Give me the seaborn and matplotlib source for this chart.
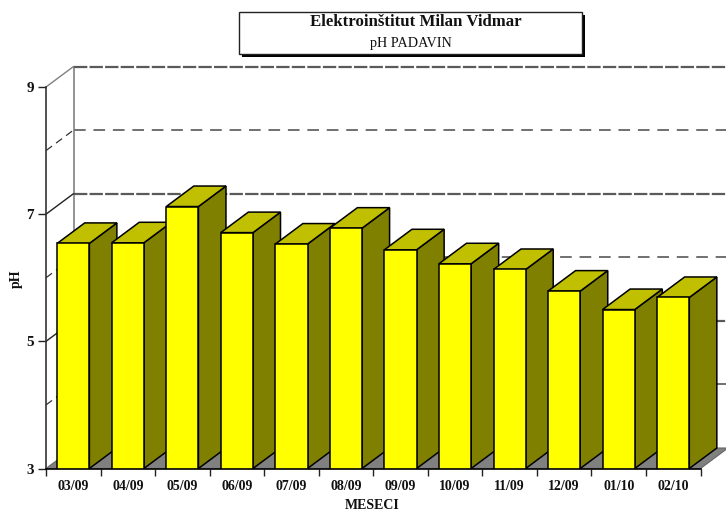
import numpy as np
import matplotlib
matplotlib.use("Agg")
import matplotlib.pyplot as plt
import seaborn as sns
from matplotlib.patches import Polygon, Rectangle

months = ["03/09", "04/09", "05/09", "06/09", "07/09", "08/09",
          "09/09", "10/09", "11/09", "12/09", "01/10", "02/10"]
ph = [6.54, 6.55, 7.12, 6.71, 6.53, 6.78, 6.44, 6.22, 6.13, 5.79, 5.50, 5.69]
major_ticks = [3, 5, 7, 9]
minor_ticks = [4, 6, 8]

sns.set_theme(style="white")
plt.rcParams["font.family"] = ["Liberation Serif", "DejaVu Serif"]

W, H = 726, 511
fig = plt.figure(figsize=(W / 100, H / 100), dpi=100)
ax = fig.add_axes([46 / W, 1 - 468.5 / H, 654.5 / W, 381.5 / H])

sns.barplot(x=months, y=ph, color="#ffff00", saturation=1, width=0.59,
            edgecolor="black", linewidth=1.1, ax=ax)
ax.set_xlim(-0.5, 11.5)
ax.set_ylim(3, 9)

# depth of the fake 3d box, in data units
dx = 27.5 / 54.5
dy = 20.5 / 63.6

# floor
x0, x1 = -0.5, 11.5
ax.add_patch(Polygon([(x0, 3), (x0 + dx, 3 + dy), (x1 + dx, 3 + dy), (x1, 3)],
                     facecolor="#808080", edgecolor="#666666", lw=0.8,
                     clip_on=False, zorder=0.2))

# back wall lines and the diagonals on the left side
ax.plot([x0 + dx, x0 + dx], [3 + dy, 9 + dy], color="#808080", lw=1.2,
        clip_on=False, zorder=0.3)
for v in major_ticks[1:]:
    ax.plot([x0 + dx, x1 + 0.5], [v + dy, v + dy], color="#5a5a5a", lw=1.6,
            ls=(0, (6, 1)), clip_on=False, zorder=0.3)
    diag = "#808080" if v == 9 else "#222222"
    ax.plot([x0, x0 + dx], [v, v + dy], color=diag, lw=1,
            clip_on=False, zorder=0.3)
for v in minor_ticks:
    ax.plot([x0 + dx, x1 + 0.5], [v + dy, v + dy], color="#707070", lw=1.4,
            ls=(0, (6, 4)), clip_on=False, zorder=0.3)
    ax.plot([x0, x0 + dx], [v, v + dy], color="#333333", lw=0.9,
            ls=(0, (6, 4)), clip_on=False, zorder=0.3)

# sides and tops, later bars cover the sides of earlier ones
for i, bar in enumerate(ax.patches[:len(months)]):
    left = bar.get_x()
    right = left + bar.get_width()
    top = bar.get_height()
    ax.add_patch(Polygon([(right, 3), (right + dx, 3 + dy), (right + dx, top + dy), (right, top)],
                         facecolor="#808000", edgecolor="black", lw=1.1,
                         clip_on=False, zorder=2 + i))
    ax.add_patch(Polygon([(left, top), (left + dx, top + dy), (right + dx, top + dy), (right, top)],
                         facecolor="#c0c000", edgecolor="black", lw=1.1,
                         clip_on=False, zorder=2 + i))
    bar.set_zorder(2.5 + i)

sns.despine(ax=ax, top=True, right=True)
ax.spines["left"].set_color("#333333")
ax.spines["bottom"].set_color("black")
ax.spines["left"].set_linewidth(1.2)
ax.spines["bottom"].set_linewidth(1.2)
ax.spines["bottom"].set_zorder(40)

ax.set_yticks(major_ticks)
ax.set_yticklabels([str(v) for v in major_ticks], fontsize=11, fontweight="bold", color="#111111")
ax.tick_params(axis="y", length=5.5, width=1, color="#222222", left=True, pad=3)

# ticks sit between the categories, labels under the bars
ax.set_xticks(np.arange(len(months) + 1) - 0.5)
ax.set_xticklabels([])
ax.tick_params(axis="x", length=5, width=1, color="#222222", bottom=True)
for i, m in enumerate(months):
    ax.text(i, 3 - 18.5 / 63.6, m, ha="center", va="center", fontsize=10,
            fontweight="bold", color="#111111", clip_on=False)

fig.text(16 / W, 1 - 279 / H, "pH", rotation=90, ha="center", va="center",
         fontsize=10, fontweight="bold", color="#111111")
fig.text(372.5 / W, 1 - 505 / H, "MESECI", ha="center", va="center",
         fontsize=10, fontweight="bold", color="#111111")

# title box with a hard shadow
fig.add_artist(Rectangle((241.5 / W, 1 - 57 / H), 343.5 / W, 42 / H, transform=fig.transFigure,
                         facecolor="black", edgecolor="black", lw=0))
fig.add_artist(Rectangle((238.5 / W, 1 - 54 / H), 343.5 / W, 42 / H, transform=fig.transFigure,
                         facecolor="white", edgecolor="#222222", lw=1))
fig.text(415.5 / W, 1 - 22.5 / H, "Elektroinštitut Milan Vidmar", ha="center", va="center",
         fontsize=12.1, fontweight="bold", color="#111111")
fig.text(411 / W, 1 - 43 / H, "pH PADAVIN", ha="center", va="center",
         fontsize=10.2, color="#111111")

fig.savefig("out.png", dpi=100)
